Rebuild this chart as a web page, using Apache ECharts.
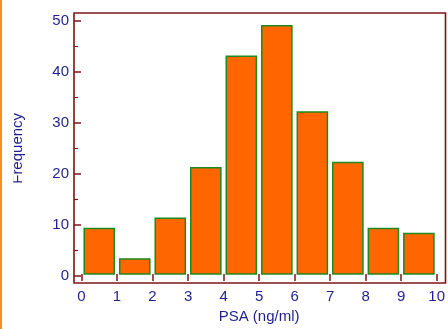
<!DOCTYPE html>
<html><head><meta charset="utf-8">
<script src="https://cdn.jsdelivr.net/npm/echarts@6/dist/echarts.min.js"></script>
<style>html,body{margin:0;padding:0;background:#fff}#c{width:448px;height:329px}</style>
</head><body><div id="c"></div>
<script>
const binStarts = [0, 1, 2, 3, 4, 5, 6, 7, 8, 9];
const binEnds = [1, 2, 3, 4, 5, 6, 7, 8, 9, 10];
const frequencies = [9, 3, 11, 21, 43, 49, 32, 22, 9, 8];
const xTickMin = 0, xTickMax = 10, xTickStep = 1;
const yTickMin = 0, yTickMax = 50, yTickStep = 10;
const xTitle = 'PSA (ng/ml)';
const yTitle = 'Frequency';

const FONT = "'Liberation Sans', Arial, sans-serif";
const TXT = '#1f1f8f';
const AX = '#7d1414';

const data = binStarts.map((s, i) => [s, binEnds[i], frequencies[i]]);

const chart = echarts.init(document.getElementById('c'), null, {renderer: 'canvas'});
chart.setOption({
  animation: false,
  backgroundColor: '#ffffff',
  grid: [
    {left: 81.5, right: 8.7, top: 20.7, bottom: 53},
    {left: 74, right: 2.5, top: 13, bottom: 46, show: true, borderColor: AX, borderWidth: 1.6, backgroundColor: 'transparent'},
    {left: 74, right: 8.7, top: 20.7, bottom: 53}
  ],
  xAxis: [{
    gridIndex: 0, type: 'value', min: xTickMin, max: xTickMax, interval: xTickStep,
    position: 'bottom',
    name: xTitle, nameLocation: 'middle', nameGap: 31,
    nameTextStyle: {color: TXT, fontSize: 15, fontFamily: FONT},
    axisLine: {show: false},
    axisTick: {show: true, inside: false, length: 7, lineStyle: {color: AX, width: 1.5}},
    axisLabel: {color: TXT, fontSize: 15, fontFamily: FONT, margin: 15},
    splitLine: {show: false}
  }, {
    gridIndex: 1, type: 'value', min: 0, max: 1, show: false
  }, {
    gridIndex: 2, type: 'value', min: 0, max: 1, show: false
  }],
  yAxis: [{
    gridIndex: 0, type: 'value', min: yTickMin, max: yTickMax, show: false
  }, {
    gridIndex: 1, type: 'value', min: 0, max: 1, show: false
  }, {
    gridIndex: 2, type: 'value', min: yTickMin, max: yTickMax, interval: yTickStep,
    position: 'left',
    name: yTitle, nameLocation: 'middle', nameGap: 49, nameRotate: 90,
    nameTextStyle: {color: TXT, fontSize: 15, fontFamily: FONT},
    axisLine: {show: false},
    axisTick: {show: true, inside: true, length: 7, lineStyle: {color: AX, width: 1.5}},
    minorTick: {show: true, splitNumber: 2, length: 4, lineStyle: {color: AX, width: 1.2}},
    axisLabel: {color: TXT, fontSize: 15, fontFamily: FONT, margin: 5},
    splitLine: {show: false}
  }],
  series: [{
    type: 'custom',
    xAxisIndex: 0, yAxisIndex: 0,
    data: data,
    encode: {x: [0, 1], y: 2},
    renderItem: function (params, api) {
      const lo = api.value(0), hi = api.value(1), v = api.value(2);
      const p0 = api.coord([lo, 0]);
      const p1 = api.coord([hi, v]);
      const inset = 2.7;
      return {
        type: 'rect',
        shape: {x: p0[0] + inset, y: p1[1], width: p1[0] - p0[0] - 2 * inset, height: p0[1] - p1[1]},
        style: {fill: '#ff6600', stroke: '#1c8a1c', lineWidth: 1.5}
      };
    }
  }],
  graphic: [
    {type: 'rect', left: 3, top: 95, shape: {width: 10.2, height: 110}, style: {fill: '#ffffff'}, z: 100, zlevel: 1},
    {type: 'rect', left: 0, top: 0, shape: {width: 2, height: 329}, style: {fill: '#f39222'}, z: 100}
  ]
});
</script></body></html>
